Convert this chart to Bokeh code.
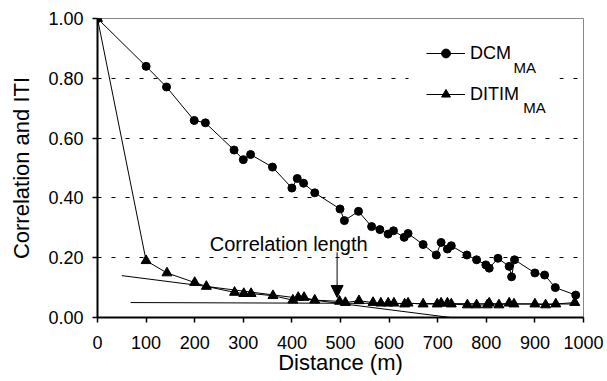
from bokeh.plotting import figure
from bokeh.models import (Legend, LegendItem, Label, Arrow, NormalHead, FixedTicker,
                          NumeralTickFormatter, Range1d, BoxAnnotation)
from bokeh.embed import file_html
from bokeh.resources import INLINE

# ---- data ----
dcm_x = [0, 100, 142, 199, 222, 281, 300, 315, 360, 400, 411, 424, 447, 499, 508, 537,
         564, 581, 598, 609, 631, 639, 670, 697, 707, 720, 728, 760, 780, 799, 806, 824,
         847, 852, 858, 900, 920, 942, 984]
dcm_y = [1.00, 0.84, 0.771, 0.659, 0.651, 0.560, 0.528, 0.545, 0.503, 0.433, 0.465, 0.449,
         0.417, 0.363, 0.324, 0.355, 0.304, 0.294, 0.279, 0.290, 0.268, 0.281, 0.244, 0.209,
         0.251, 0.229, 0.240, 0.209, 0.193, 0.176, 0.165, 0.198, 0.171, 0.136, 0.193, 0.149,
         0.142, 0.100, 0.075]

ditim_x = [0, 100, 143, 200, 224, 282, 301, 316, 361, 402, 413, 425, 447, 498, 510, 538,
           567, 583, 598, 610, 632, 639, 670, 699, 707, 720, 728, 761, 780, 802, 806, 826,
           847, 857, 900, 922, 943, 982]
ditim_y = [1.00, 0.19, 0.149, 0.117, 0.104, 0.084, 0.080, 0.080, 0.073, 0.058, 0.067, 0.067,
           0.058, 0.054, 0.050, 0.056, 0.050, 0.048, 0.048, 0.048, 0.045, 0.048, 0.045, 0.045,
           0.048, 0.048, 0.045, 0.042, 0.042, 0.042, 0.048, 0.042, 0.048, 0.045, 0.045, 0.042,
           0.045, 0.050]

trend1_x = [50, 770]
trend1_y = [0.14, -0.009]
trend2_x = [68, 985]
trend2_y = [0.050, 0.045]

corr_length_x = 493
arrow_y = [0.218, 0.067]

x_ticks = [0, 100, 200, 300, 400, 500, 600, 700, 800, 900, 1000]
y_ticks = [0.0, 0.2, 0.4, 0.6, 0.8, 1.0]

FONT = "Liberation Sans"

p = figure(width=607, height=381, output_backend="svg", toolbar_location=None,
           x_range=Range1d(0, 1000), y_range=Range1d(0, 1),
           min_border_left=97, min_border_right=24, min_border_top=18, min_border_bottom=64)
p.background_fill_color = "white"
p.border_fill_color = "white"
p.outline_line_color = "#888888"
p.outline_line_width = 1

p.xgrid.visible = False
p.ygrid.grid_line_color = "black"
p.ygrid.grid_line_dash = "4 10"
p.ygrid.grid_line_width = 1

for ax in (p.xaxis[0], p.yaxis[0]):
    ax.axis_line_color = "black"
    ax.axis_line_width = 2
    ax.major_tick_line_color = "black"
    ax.major_tick_line_width = 1.5
    ax.major_tick_out = 5
    ax.major_tick_in = 0
    ax.minor_tick_line_color = None
    ax.major_label_text_font = FONT
    ax.major_label_text_font_size = "18px"
    ax.major_label_text_color = "black"
    ax.axis_label_text_font = FONT
    ax.axis_label_text_font_size = "22px"
    ax.axis_label_text_font_style = "normal"
    ax.axis_label_text_color = "black"

p.xaxis.ticker = FixedTicker(ticks=x_ticks)
p.yaxis.ticker = FixedTicker(ticks=y_ticks)
p.yaxis.formatter = NumeralTickFormatter(format="0.00")
p.xaxis.axis_label = "Distance (m)"
p.yaxis.axis_label = "Correlation and ITI"
p.xaxis.major_label_standoff = 13
p.xaxis.axis_label_standoff = -2
p.yaxis.major_label_standoff = 9
p.yaxis.axis_label_standoff = 11

# white area behind the legend (hides the grid line there)
p.add_layout(BoxAnnotation(left=311, right=462, bottom=193, top=294,
                           left_units="screen", right_units="screen",
                           bottom_units="screen", top_units="screen",
                           fill_color="white", fill_alpha=1.0, line_color=None,
                           level="underlay"))

# trend lines
p.line(trend1_x, trend1_y, line_color="black", line_width=1)
p.line(trend2_x, trend2_y, line_color="black", line_width=1)

# series
l1 = p.line(dcm_x, dcm_y, line_color="black", line_width=1)
m1 = p.scatter(dcm_x, dcm_y, marker="circle", size=8, fill_color="black", line_color="black")
l2 = p.line(ditim_x, ditim_y, line_color="black", line_width=1)
m2 = p.scatter(ditim_x, ditim_y, marker="triangle", size=10, fill_color="black", line_color="black")

# correlation length annotation
p.add_layout(Arrow(x_start=corr_length_x, y_start=arrow_y[0], x_end=corr_length_x, y_end=arrow_y[1],
                   line_color="black", line_width=1,
                   end=NormalHead(size=12, fill_color="black", line_color="black")))
p.add_layout(Label(x=231, y=0.247, text="Correlation length", text_font=FONT,
                   text_font_size="20px", text_color="black", text_align="left",
                   text_baseline="alphabetic"))

legend = Legend(items=[LegendItem(label="DCM", renderers=[l1, m1]),
                       LegendItem(label="DITIM", renderers=[l2, m2])],
                location=(329, 212), padding=19, spacing=19, glyph_width=39, glyph_height=22,
                label_standoff=5, label_width=40, label_text_font=FONT,
                label_text_font_size="18px", label_text_color="black",
                background_fill_alpha=0.0, border_line_color=None, margin=0)
p.add_layout(legend)

for sx, sy in [(416, 250.5), (425.7, 210.5)]:
    p.add_layout(Label(x=sx, y=sy, x_units="screen", y_units="screen", text="MA",
                       text_font=FONT, text_font_size="15px", text_color="black",
                       text_align="left", text_baseline="alphabetic", level="overlay"))

open("out.html", "w").write(file_html(p, INLINE))
